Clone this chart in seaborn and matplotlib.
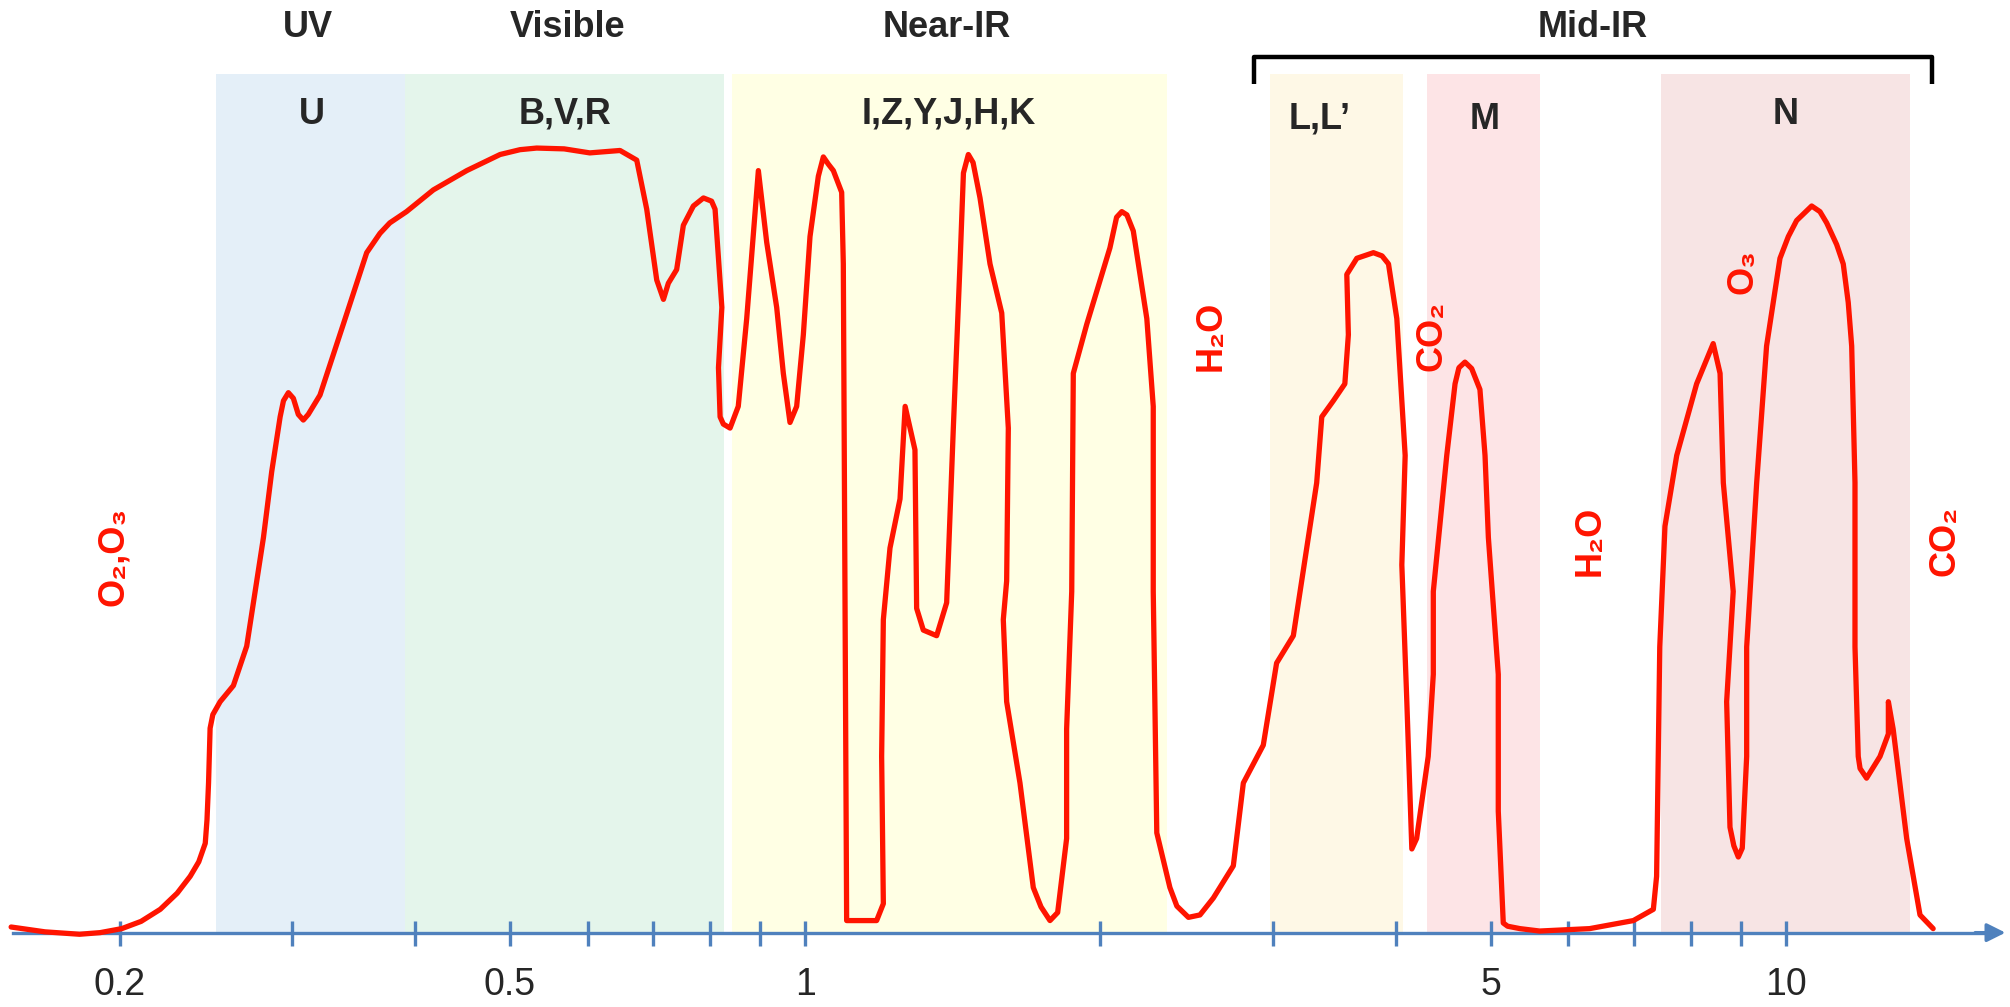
import numpy as np
import pandas as pd
import matplotlib
matplotlib.use("Agg")
import matplotlib.pyplot as plt
import matplotlib.transforms as mtransforms
from matplotlib.ticker import NullFormatter
import seaborn as sns

# atmospheric transmission (wavelength in micron, transmission 0-1)
wavelength = [
    0.155, 0.1678, 0.182, 0.191, 0.201, 0.2103, 0.220, 0.2289, 0.236, 0.2408,
    0.2445, 0.2455, 0.2464, 0.2473, 0.2489, 0.2532, 0.2612, 0.2695, 0.2748, 0.2803,
    0.2858, 0.2915, 0.2938, 0.2972, 0.3007, 0.3042, 0.3078, 0.3114, 0.3201, 0.3381,
    0.3572, 0.3685, 0.3771, 0.3922, 0.4177, 0.4518, 0.4886, 0.5120, 0.5324, 0.5679,
    0.6031, 0.6475, 0.6734, 0.6894, 0.7058, 0.7170, 0.7253, 0.7396, 0.7513, 0.7692,
    0.7876, 0.8028, 0.8094, 0.8224, 0.8159, 0.8190, 0.8253, 0.8384, 0.8547, 0.8718,
    0.8960, 0.9137, 0.9354, 0.9501, 0.9651, 0.9803, 0.9958, 1.0115, 1.0315, 1.0437,
    1.056, 1.0685, 1.0896, 1.0938, 1.1024, 1.1828, 1.2016, 1.1968, 1.2016, 1.2205,
    1.2496, 1.2647, 1.2942, 1.2993, 1.3198, 1.3618, 1.3942, 1.4162, 1.4386, 1.4502,
    1.4670, 1.4834, 1.5078, 1.5436, 1.5867, 1.6114, 1.6051, 1.5925, 1.6051, 1.6561,
    1.7087, 1.740, 1.7770, 1.8093, 1.8478, 1.8478, 1.8701, 1.8770, 1.9372, 2.0456,
    2.0778, 2.1034, 2.1286, 2.1609, 2.2307, 2.2646, 2.2646, 2.2835, 2.3550, 2.3937,
    2.4597, 2.5271, 2.6077, 2.7330, 2.7981, 2.9322, 3.0254, 3.1466, 3.2475, 3.3240,
    3.3640, 3.4567, 3.5511, 3.5807, 3.5675, 3.6525, 3.7974, 3.8752, 3.9344, 4.0122,
    4.0915, 4.0596, 4.1075, 4.1560, 4.2032, 4.3190, 4.3710, 4.3710, 4.5112, 4.5999,
    4.642, 4.7081, 4.783, 4.8767, 4.9354, 4.9743, 5.0913, 5.0913, 5.1325, 5.1514,
    5.204, 5.3568, 5.6105, 6.3096, 6.9918, 7.3277, 7.3838, 7.4131, 7.4388, 7.5301,
    7.7411, 8.1113, 8.4333, 8.5704, 8.6360, 8.8392, 8.7038, 8.7723, 8.852, 8.9457,
    9.029, 9.1229, 9.1229, 9.3395, 9.5594, 9.8650, 10.06, 10.259, 10.627, 10.836,
    11.008, 11.27, 11.445, 11.58, 11.674, 11.765, 11.765, 11.855, 11.906, 12.089,
    12.477, 12.724, 12.724, 12.868, 13.283, 13.705, 14.135,
]
transmission = [
    0.007, 0.001, -0.002, 0.000, 0.005, 0.014, 0.029, 0.049, 0.070, 0.088,
    0.111, 0.140, 0.186, 0.254, 0.271, 0.287, 0.307, 0.356, 0.423, 0.491,
    0.573, 0.641, 0.661, 0.671, 0.664, 0.644, 0.637, 0.644, 0.668, 0.756,
    0.845, 0.869, 0.882, 0.896, 0.923, 0.947, 0.967, 0.973, 0.975, 0.974,
    0.969, 0.972, 0.960, 0.899, 0.811, 0.787, 0.807, 0.824, 0.879, 0.903,
    0.913, 0.909, 0.899, 0.777, 0.702, 0.641, 0.632, 0.627, 0.654, 0.763,
    0.947, 0.858, 0.777, 0.695, 0.634, 0.654, 0.743, 0.865, 0.940, 0.964,
    0.955, 0.947, 0.920, 0.831, 0.015, 0.015, 0.036, 0.219, 0.389, 0.478,
    0.539, 0.654, 0.600, 0.403, 0.376, 0.369, 0.410, 0.627, 0.831, 0.944,
    0.967, 0.957, 0.913, 0.831, 0.770, 0.627, 0.437, 0.389, 0.287, 0.186,
    0.056, 0.032, 0.015, 0.025, 0.117, 0.253, 0.424, 0.695, 0.756, 0.851,
    0.889, 0.896, 0.892, 0.872, 0.763, 0.654, 0.424, 0.124, 0.056, 0.033,
    0.019, 0.022, 0.043, 0.083, 0.186, 0.233, 0.335, 0.369, 0.478, 0.559,
    0.641, 0.661, 0.682, 0.743, 0.818, 0.838, 0.845, 0.841, 0.831, 0.763,
    0.593, 0.457, 0.287, 0.104, 0.117, 0.219, 0.321, 0.424, 0.593, 0.682,
    0.702, 0.709, 0.701, 0.675, 0.593, 0.491, 0.321, 0.151, 0.056, 0.012,
    0.008, 0.005, 0.002, 0.005, 0.015, 0.029, 0.070, 0.219, 0.355, 0.505,
    0.593, 0.682, 0.732, 0.695, 0.559, 0.424, 0.287, 0.131, 0.108, 0.094,
    0.105, 0.219, 0.355, 0.559, 0.729, 0.838, 0.865, 0.885, 0.903, 0.896,
    0.882, 0.855, 0.831, 0.783, 0.729, 0.559, 0.355, 0.219, 0.204, 0.192,
    0.219, 0.247, 0.287, 0.253, 0.117, 0.022, 0.005,
]

# photometric bands
band_names = ["U", "B,V,R", "I,Z,Y,J,H,K", "L,L\u2019", "M", "N"]
band_lo = [0.251, 0.391, 0.842, 2.98, 4.31, 7.46]
band_hi = [0.391, 0.827, 2.34, 4.07, 5.62, 13.4]
band_label_x = [0.314, 0.569, 1.40, 3.35, 4.93, 10.0]
band_label_y = [0.877, 0.877, 0.877, 0.872, 0.872, 0.877]
band_colors = ["#e4eff8", "#e4f5eb", "#ffffe4", "#fef8e6", "#fde4e6", "#f7e4e4"]

# spectral regions
region_names = ["UV", "Visible", "Near-IR", "Mid-IR"]
region_x = [0.311, 0.573, 1.393, 6.35]
midir_span = [2.87, 14.1]

# absorbing molecules
absorbers = ["O\u2082,O\u2083", "H\u2082O", "CO\u2082", "O\u2083", "H\u2082O", "CO\u2082"]
absorber_x = [0.197, 2.597, 4.357, 9.055, 6.31, 14.53]
absorber_y = [0.467, 0.742, 0.742, 0.822, 0.487, 0.487]

major_ticks = [0.2, 0.5, 1, 5, 10]
major_labels = ["0.2", "0.5", "1", "5", "10"]
minor_ticks = [0.3, 0.4, 0.6, 0.7, 0.8, 0.9, 2, 3, 4, 6, 7, 8, 9]

sns.set_style("white")
plt.rcParams["font.family"] = ["Liberation Sans", "DejaVu Sans"]

axis_blue = "#4f81bd"
red = "#ff1400"

fig = plt.figure(figsize=(20.1, 10.07), dpi=100)
ax = fig.add_axes([0, 0, 1, 1])
ax.set_xscale("log")
ax.set_xlim(0.151, 16.93)
ax.set_ylim(-0.0924, 1.159)

band_top = 1.067
for lo, hi, c in zip(band_lo, band_hi, band_colors):
    ax.fill_between([lo, hi], 0, band_top, color=c, lw=0, zorder=0)

df = pd.DataFrame({"wavelength": wavelength, "transmission": transmission})
sns.lineplot(data=df, x="wavelength", y="transmission", sort=False, estimator=None,
             color=red, lw=3.8, ax=ax, zorder=4,
             solid_joinstyle="round", solid_capstyle="round")

# axis line with arrow
for s in ["top", "left", "right"]:
    ax.spines[s].set_visible(False)
ax.spines["bottom"].set_position(("data", 0))
ax.spines["bottom"].set_color(axis_blue)
ax.spines["bottom"].set_linewidth(2.4)
ax.spines["bottom"].set_bounds(0.1557, 16.2)
ax.annotate("", xy=(16.75, 0), xytext=(15.6, 0),
            arrowprops=dict(arrowstyle="-|>", color=axis_blue, lw=2.4,
                            mutation_scale=28, shrinkA=0, shrinkB=0))

ax.set_xticks(major_ticks, major_labels)
ax.set_xticks(minor_ticks, minor=True)
ax.xaxis.set_minor_formatter(NullFormatter())
ax.tick_params(axis="x", which="both", bottom=True, direction="inout", length=18,
               width=2.4, color=axis_blue, pad=16, labelsize=27)
ax.set_yticks([])
ax.set_xlabel("")
ax.set_ylabel("")

trans = mtransforms.blended_transform_factory(ax.transData, ax.transAxes)
for name, x in zip(region_names, region_x):
    ax.text(x, 0.963, name, transform=trans, ha="center", va="baseline",
            fontsize=26, fontweight="bold")
for name, x, y in zip(band_names, band_label_x, band_label_y):
    ax.text(x, y, name, transform=trans, ha="center", va="baseline",
            fontsize=26, fontweight="bold")

# Mid-IR bracket
ax.plot([midir_span[0], midir_span[0], midir_span[1], midir_span[1]],
        [0.917, 0.943, 0.943, 0.917], transform=trans, color="black", lw=3.2,
        solid_joinstyle="round", solid_capstyle="butt")

for name, x, y in zip(absorbers, absorber_x, absorber_y):
    ax.text(x, y, name, rotation=90, ha="center", va="center", color=red,
            fontsize=26, fontweight="bold")

fig.savefig("out.png", dpi=100)
